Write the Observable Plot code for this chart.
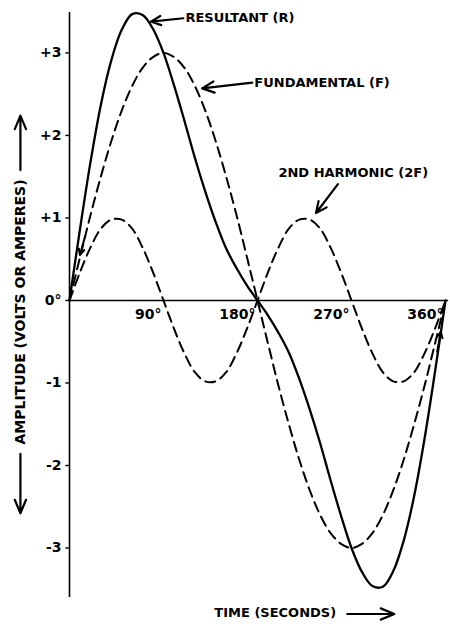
<!DOCTYPE html>
<html>
<head>
<meta charset="utf-8">
<script src="https://cdn.jsdelivr.net/npm/d3@7"></script>
<script src="https://cdn.jsdelivr.net/npm/@observablehq/plot@0.6"></script>
<style>
  html, body { margin: 0; padding: 0; background: #fff; }
  #chart svg { display: block; }
</style>
</head>
<body>
<div id="chart"></div>
<script>
// Phase angle (degrees)
const degrees = [0,10,20,30,40,50,60,70,80,90,100,110,120,130,140,150,160,170,180,
  190,200,210,220,230,240,250,260,270,280,290,300,310,320,330,340,350,360];
// Fundamental (F)
const fundamental = [0,0.52,1.03,1.5,1.93,2.3,2.6,2.82,2.95,3.0,2.95,2.82,2.6,2.3,1.93,1.5,1.03,0.52,0,
  -0.52,-1.03,-1.5,-1.93,-2.3,-2.6,-2.82,-2.95,-3.0,-2.95,-2.82,-2.6,-2.3,-1.93,-1.5,-1.03,-0.52,0];
// 2nd harmonic (2F)
const harmonic = [0,0.34,0.64,0.87,0.98,0.98,0.87,0.64,0.34,0,-0.34,-0.64,-0.87,-0.98,-0.98,-0.87,-0.64,-0.34,0,
  0.34,0.64,0.87,0.98,0.98,0.87,0.64,0.34,0,-0.34,-0.64,-0.87,-0.98,-0.98,-0.87,-0.64,-0.34,0];
// Resultant (R)
const resultant = [0,0.86,1.67,2.37,2.91,3.28,3.47,3.46,3.29,3.0,2.61,2.18,1.73,1.32,0.95,0.63,0.39,0.18,0,
  -0.18,-0.39,-0.63,-0.95,-1.32,-1.73,-2.18,-2.61,-3.0,-3.29,-3.46,-3.47,-3.28,-2.91,-2.37,-1.67,-0.86,0];

const yTicks = [3,2,1,0,-1,-2,-3];
const yTickLabels = ["+3","+2","+1","0°","-1","-2","-3"];
const xTicks = [90,180,270,360];
const xTickLabels = ["90°","180°","270°","360°"];

// Curve labels and their pointer arrows
const labelTexts = ["RESULTANT (R)","FUNDAMENTAL (F)","2ND HARMONIC (2F)"];
const labelX = [111,177,200];
const labelY = [3.42,2.64,1.55];
const pointerX1 = [109,175,257];
const pointerY1 = [3.42,2.64,1.41];
const pointerX2 = [78,127,236];
const pointerY2 = [3.38,2.57,1.06];

const yTitle = "AMPLITUDE (VOLTS OR AMPERES)";
const xTitle = "TIME (SECONDS)";

const toRows = (ys) => degrees.map((d, i) => ({deg: d, v: ys[i]}));
const labels = labelTexts.map((t, i) => ({t, x: labelX[i], y: labelY[i]}));
const pointers = labelTexts.map((t, i) => ({x1: pointerX1[i], y1: pointerY1[i], x2: pointerX2[i], y2: pointerY2[i]}));
const yTickRows = yTicks.map((v, i) => ({v, s: yTickLabels[i]}));
const xTickRows = xTicks.map((v, i) => ({v, s: xTickLabels[i]}));

const dash = "10,6";
const font = "DejaVu Sans";

const chart = Plot.plot({
  width: 450,
  height: 630,
  marginLeft: 69,
  marginRight: 5,
  marginTop: 12,
  marginBottom: 33,
  x: {type: "linear", domain: [0, 360], axis: null},
  y: {type: "linear", domain: [-3.6, 3.49], axis: null},
  style: {fontFamily: font, background: "#fff", color: "#000", overflow: "visible"},
  marks: [
    // axes
    Plot.ruleX([0], {y1: -3.6, y2: 3.49, stroke: "#000", strokeWidth: 1.6}),
    Plot.ruleY([0], {x1: 0, x2: 363, stroke: "#000", strokeWidth: 1.6}),
    Plot.ruleY(yTickRows, {y: "v", x1: -3.5, x2: 0, stroke: "#000", strokeWidth: 1.4}),
    Plot.text(yTickRows, {y: "v", x: 0, text: "s", textAnchor: "end", dx: -8, fontSize: 14, fontWeight: "bold", fontFamily: font, fill: "#000"}),
    Plot.text(xTickRows, {x: "v", y: 0, text: "s", textAnchor: "end", dx: -2, dy: 14, fontSize: 14, fontWeight: "bold", fontFamily: font, fill: "#000"}),
    // curves
    Plot.line(toRows(harmonic), {x: "deg", y: "v", curve: "catmull-rom", stroke: "#000", strokeWidth: 2, strokeDasharray: dash}),
    Plot.line(toRows(fundamental), {x: "deg", y: "v", curve: "catmull-rom", stroke: "#000", strokeWidth: 2, strokeDasharray: dash}),
    Plot.line(toRows(resultant), {x: "deg", y: "v", curve: "catmull-rom", stroke: "#000", strokeWidth: 2.3}),
    // labels
    Plot.text(labels, {x: "x", y: "y", text: "t", textAnchor: "start", fontSize: 13, fontWeight: "bold", fontFamily: font, fill: "#000"}),
    Plot.arrow(pointers, {x1: "x1", y1: "y1", x2: "x2", y2: "y2", stroke: "#000", strokeWidth: 2.2, headLength: 9, headAngle: 50}),
    // titles
    Plot.text([yTitle], {x: -47, y: -0.14, rotate: -90, fontSize: 14, fontWeight: "bold", fontFamily: font, fill: "#000"}),
    Plot.arrow([{x1: -47, y1: -1.86, x2: -47, y2: -2.58}, {x1: -47, y1: 1.58, x2: -47, y2: 2.24}],
      {x1: "x1", y1: "y1", x2: "x2", y2: "y2", stroke: "#000", strokeWidth: 2.2, headLength: 10, headAngle: 45}),
    Plot.text([xTitle], {x: 197, y: -3.79, fontSize: 13, fontWeight: "bold", fontFamily: font, fill: "#000"}),
    Plot.arrow([{x1: 266, y1: -3.8, x2: 311, y2: -3.8}],
      {x1: "x1", y1: "y1", x2: "x2", y2: "y2", stroke: "#000", strokeWidth: 2.2, headLength: 10, headAngle: 45}),
    // small direction arrows on the curve ends
    Plot.arrow([{x1: 15, y1: 0.78, x2: 10, y2: 0.55}, {x1: 352, y1: -0.62, x2: 355.5, y2: -0.38}],
      {x1: "x1", y1: "y1", x2: "x2", y2: "y2", stroke: "#000", strokeWidth: 2, headLength: 7, headAngle: 50})
  ]
});
document.getElementById("chart").appendChild(chart);
</script>
</body>
</html>
